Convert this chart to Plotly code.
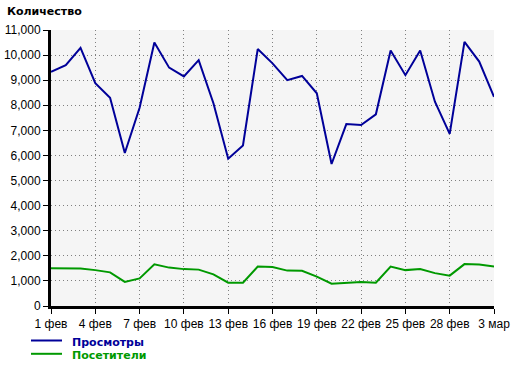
import datetime as dt
import plotly.graph_objects as go

start = dt.date(2013, 2, 1)
dates = [start + dt.timedelta(days=i) for i in range(31)]

views = [9330, 9600, 10290, 8880, 8300, 6100, 7900, 10500, 9500, 9150,
         9800, 8080, 5870, 6400, 10240, 9670, 9000, 9170, 8480, 5660,
         7250, 7210, 7640, 10180, 9200, 10180, 8140, 6860, 10530, 9740, 8340]
visitors = [1500, 1500, 1490, 1430, 1340, 960, 1100, 1660, 1530, 1470,
            1450, 1260, 930, 930, 1570, 1550, 1410, 1400, 1170, 890,
            930, 960, 930, 1570, 1430, 1470, 1310, 1210, 1670, 1650, 1570]

months = {2: "фев", 3: "мар"}
tick_dates = dates[::3]
tick_text = [f"{d.day} {months[d.month]}" for d in tick_dates]
y_ticks = list(range(0, 11001, 1000))

series_names = ["Просмотры", "Посетители"]
blue = "#000099"
green = "#009900"
colors = [blue, green]

W, H = 520, 366
L, R, T, B = 51, 26, 30, 60
pw, ph = W - L - R, H - T - B

def px_x(x):
    return (x - L) / pw

def px_y(y):
    return (H - B - y) / ph

bold_font = "DejaVu Sans, Verdana, sans-serif"

fig = go.Figure()
for name, vals, col in zip(series_names, [views, visitors], colors):
    fig.add_trace(go.Scatter(x=dates, y=vals, mode="lines",
                             line=dict(color=col, width=2), name=name,
                             showlegend=False))

shapes = []
annotations = [dict(text="<b>Количество</b>", xref="paper", yref="paper",
                    x=px_x(5), y=px_y(12), xanchor="left", yanchor="middle",
                    showarrow=False, font=dict(family=bold_font, size=11, color="black"))]
for i, (name, col) in enumerate(zip(series_names, colors)):
    yy = 340.5 + 13.3 * i
    shapes.append(dict(type="line", xref="paper", yref="paper",
                       x0=px_x(31), x1=px_x(62), y0=px_y(yy), y1=px_y(yy),
                       line=dict(color=col, width=2)))
    annotations.append(dict(text=f"<b>{name}</b>", xref="paper", yref="paper",
                            x=px_x(71), y=px_y(yy + 1), xanchor="left", yanchor="middle",
                            height=12, valign="middle", borderpad=0,
                            showarrow=False, font=dict(family=bold_font, size=11, color=col)))

fig.update_layout(
    width=W, height=H,
    margin=dict(l=L, r=R, t=T, b=B, autoexpand=False),
    paper_bgcolor="white", plot_bgcolor="#f5f5f5",
    font=dict(family="Liberation Sans, Arial, sans-serif", size=12, color="black"),
    showlegend=False,
    shapes=shapes,
    annotations=annotations,
)
grid = dict(showgrid=True, gridcolor="#808080", griddash="1px,3px", gridwidth=1,
            showline=True, linecolor="black", linewidth=3,
            ticks="outside", ticklen=5, tickcolor="black", tickwidth=1,
            zeroline=False)
fig.update_xaxes(type="date", range=[dates[0], dates[-1]],
                 tickvals=tick_dates, ticktext=tick_text, **grid)
fig.update_yaxes(range=[0, 11000], tickvals=y_ticks, tickformat=",", **grid)
fig.write_html("out.html")
